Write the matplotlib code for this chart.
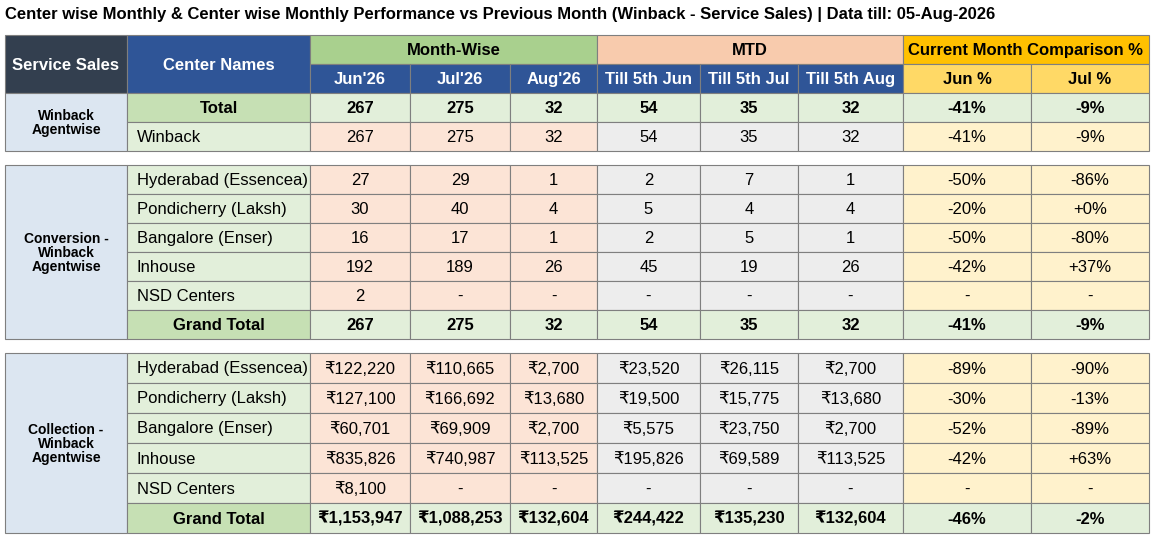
import matplotlib
matplotlib.use("Agg")
import matplotlib.pyplot as plt
from matplotlib.patches import Rectangle

plt.rcParams['font.family'] = ['Liberation Sans', 'DejaVu Sans']

title = "Center wise Monthly & Center wise Monthly Performance vs Previous Month (Winback - Service Sales) | Data till: 05-Aug-2026"
groups = ["Month-Wise", "MTD", "Current Month Comparison %"]
subheads = ["Jun'26", "Jul'26", "Aug'26", "Till 5th Jun", "Till 5th Jul", "Till 5th Aug", "Jun %", "Jul %"]

sec1_label = "Winback\nAgentwise"
sec1_names = ["Total", "Winback"]
sec1_vals = [["267", "275", "32", "54", "35", "32", "-41%", "-9%"],
             ["267", "275", "32", "54", "35", "32", "-41%", "-9%"]]

sec2_label = "Conversion -\nWinback\nAgentwise"
sec2_names = ["Hyderabad (Essencea)", "Pondicherry (Laksh)", "Bangalore (Enser)", "Inhouse", "NSD Centers", "Grand Total"]
sec2_vals = [["27", "29", "1", "2", "7", "1", "-50%", "-86%"],
             ["30", "40", "4", "5", "4", "4", "-20%", "+0%"],
             ["16", "17", "1", "2", "5", "1", "-50%", "-80%"],
             ["192", "189", "26", "45", "19", "26", "-42%", "+37%"],
             ["2", "-", "-", "-", "-", "-", "-", "-"],
             ["267", "275", "32", "54", "35", "32", "-41%", "-9%"]]

sec3_label = "Collection -\nWinback\nAgentwise"
sec3_names = sec2_names
sec3_vals = [["₹122,220", "₹110,665", "₹2,700", "₹23,520", "₹26,115", "₹2,700", "-89%", "-90%"],
             ["₹127,100", "₹166,692", "₹13,680", "₹19,500", "₹15,775", "₹13,680", "-30%", "-13%"],
             ["₹60,701", "₹69,909", "₹2,700", "₹5,575", "₹23,750", "₹2,700", "-52%", "-89%"],
             ["₹835,826", "₹740,987", "₹113,525", "₹195,826", "₹69,589", "₹113,525", "-42%", "+63%"],
             ["₹8,100", "-", "-", "-", "-", "-", "-", "-"],
             ["₹1,153,947", "₹1,088,253", "₹132,604", "₹244,422", "₹135,230", "₹132,604", "-46%", "-2%"]]

W, H = 1155, 539
fig = plt.figure(figsize=(W/100, H/100), dpi=100)
ax = fig.add_axes([0, 0, 1, 1])
ax.set_xlim(0, W); ax.set_ylim(H, 0); ax.axis('off')

xs = [5, 127, 310, 410, 510, 597, 700, 798, 903, 1031, 1149]
EDGE = '#7f7f7f'
FS = 12

def cell(x0, x1, y0, y1, fc, text='', color='black', bold=False, ha='center', fs=FS):
    ax.add_patch(Rectangle((x0, y0), x1-x0, y1-y0, facecolor=fc, edgecolor=EDGE, lw=0.8))
    if text:
        tx = (x0+x1)/2 if ha == 'center' else x0+10
        ax.text(tx, (y0+y1)/2+1, text, ha=ha, va='center', fontsize=fs, color=color,
                fontweight='bold' if bold else 'normal', linespacing=1.0)

ax.text(5, 14, title, ha='left', va='center', fontsize=12, fontweight='bold')

# header
cell(xs[0], xs[1], 35, 93, '#333F4F', 'Service Sales', 'white', True)
cell(xs[1], xs[2], 35, 93, '#2F5597', 'Center Names', 'white', True)
gcols = [('#A9D08E', 'black'), ('#F8CBAD', 'black'), ('#FFC000', 'black')]
spans = [(2, 5), (5, 8), (8, 10)]
for (a, b), g, (fc, tc) in zip(spans, groups, gcols):
    cell(xs[a], xs[b], 35, 64, fc, g, tc, True)
subcols = ['#2F5597'] * 6 + ['#FFD966'] * 2
for i, s in enumerate(subheads):
    cell(xs[2+i], xs[3+i], 64, 93, subcols[i], s, 'white' if i < 6 else 'black', True)

body_cols = ['#FCE4D6'] * 3 + ['#EDEDED'] * 3 + ['#FFF2CC'] * 2

def section(y0, rh, label, names, vals, total_idx):
    n = len(names)
    cell(xs[0], xs[1], y0, y0+rh*n, '#DCE6F1', label, 'black', True, fs=10)
    for r in range(n):
        ya, yb = y0+r*rh, y0+(r+1)*rh
        tot = r == total_idx
        cell(xs[1], xs[2], ya, yb, '#C6E0B4' if tot else '#E2EFDA', names[r], 'black', tot,
             ha='center' if tot else 'left')
        for c in range(8):
            cell(xs[2+c], xs[3+c], ya, yb, '#E2EFDA' if tot else body_cols[c], vals[r][c], 'black', tot)

section(93, 29, sec1_label, sec1_names, sec1_vals, 0)
section(165, 29, sec2_label, sec2_names, sec2_vals, 5)
section(353, 30, sec3_label, sec3_names, sec3_vals, 5)

fig.savefig('out.png', dpi=100, facecolor='white')
